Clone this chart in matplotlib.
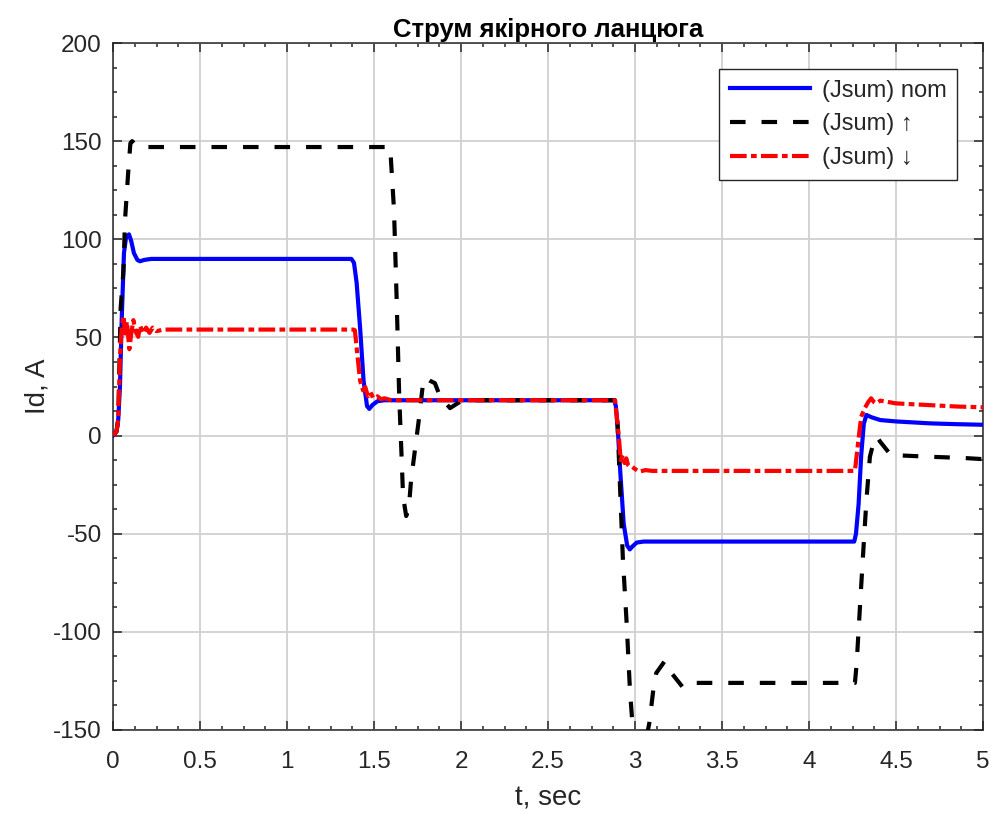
import matplotlib
matplotlib.use("Agg")
import matplotlib.pyplot as plt
from matplotlib.ticker import MultipleLocator

plt.rcParams['font.family'] = ['Liberation Sans', 'DejaVu Sans']
plt.rcParams['lines.scale_dashes'] = False
plt.rcParams['axes.unicode_minus'] = False

# ---- data ----
t_nom = [0, 0.02, 0.03, 0.04, 0.05, 0.063, 0.075, 0.092, 0.105, 0.12, 0.14, 0.155, 0.18, 0.22, 0.3,
         1.37, 1.385, 1.40, 1.42, 1.44, 1.46, 1.473, 1.49, 1.52, 1.56, 1.6,
         2.88, 2.89, 2.90, 2.915, 2.935, 2.955, 2.97, 2.985, 3.01, 3.05, 3.1,
         4.26, 4.27, 4.285, 4.30, 4.315, 4.33, 4.36, 4.41, 4.5, 4.7, 4.85, 5.0]
i_nom = [0, 2, 8, 25, 59, 93, 101, 102.5, 99, 93, 89.5, 88.8, 89.5, 90, 90,
         90, 88, 78, 55, 28, 15, 13.6, 15.5, 17.5, 18, 18,
         18, 15, 5, -18, -45, -56, -58, -56.5, -54.5, -54, -54,
         -54, -50, -35, -10, 6, 10.5, 9.3, 7.9, 7.2, 6.2, 5.8, 5.5]

t_up = [0, 0.02, 0.03, 0.044, 0.06, 0.069, 0.088, 0.10, 0.11, 0.13, 0.16, 0.22,
        1.593, 1.615, 1.63, 1.645, 1.66, 1.667, 1.685, 1.70, 1.713, 1.755, 1.784, 1.795, 1.82, 1.85,
        1.88, 1.937, 1.994, 2.05,
        2.885, 2.90, 2.93, 2.952, 2.971, 2.985, 3.0, 3.035, 3.07, 3.082, 3.105, 3.122, 3.17, 3.21,
        3.277, 3.354, 3.44,
        4.264, 4.274, 4.293, 4.31, 4.33, 4.35, 4.375, 4.39, 4.408, 4.47, 4.695, 4.885, 5.0]
i_up = [0, 2, 8, 65, 84, 109.7, 135, 149, 150, 148, 147, 147,
        147, 115, 70, 19.6, -14, -31, -41, -37, -22.7, 6.2, 28.3, 29.5, 28, 26.7,
        19.8, 14, 17.2, 18,
        18, 5, -62, -95.5, -129.7, -146.6, -152, -160, -152, -146.6, -129.7, -121, -115, -121,
        -128.5, -126, -126,
        -126, -116, -87, -61.7, -32.9, -10.8, -2, -0.6, -3, -9.9, -10.8, -11.4, -12]

t_dn = [0, 0.02, 0.03, 0.04, 0.05, 0.06, 0.07, 0.08, 0.094, 0.105, 0.117, 0.13, 0.145, 0.155,
        0.175, 0.19, 0.21, 0.228, 0.25, 0.28, 0.3,
        1.38, 1.39, 1.40, 1.42, 1.437, 1.45, 1.465, 1.48, 1.496, 1.52, 1.54, 1.56, 1.6,
        2.885, 2.905, 2.918, 2.93, 2.94, 2.95, 2.96, 2.97, 2.985, 3.0, 3.023, 3.06, 3.1,
        4.264, 4.284, 4.30, 4.32, 4.34, 4.357, 4.372, 4.386, 4.41, 4.5, 4.695, 4.85, 5.0]
i_dn = [0, 2, 8, 40, 55, 61, 52, 58, 44, 52, 58.8, 53, 50.3, 56,
        52, 55, 52.3, 55, 53.2, 53.8, 54,
        54, 53.7, 45, 28, 23, 24.7, 20, 22, 19, 20, 18.5, 19, 18,
        18, 1.3, -12.5, -10, -14, -11.6, -15, -15.9, -16, -17, -18.4, -17.6, -18,
        -18, -2.3, 9.6, 13.9, 17, 19, 17.2, 16.4, 17.8, 16.4, 15.5, 14.8, 14.4]

labels = ['(Jsum) nom', '(Jsum) \u2191', '(Jsum) \u2193']
title = 'Струм якірного ланцюга'
xlabel = 't, sec'
ylabel = 'Id, A'

# ---- figure ----
fig = plt.figure(figsize=(9.92, 8.14), dpi=100)
ax = fig.add_axes([113/992, 84/814, 870/992, 687/814])

lw = 3.0
ax.plot(t_nom, i_nom, color='#0000ff', lw=lw, label=labels[0], zorder=3)
ax.plot(t_up, i_up, color='black', lw=lw, dashes=(11.2, 11.5), label=labels[1], zorder=4)
ax.plot(t_dn, i_dn, color='#ff0000', lw=lw, dashes=(12, 3.1, 4.1, 3.1), label=labels[2], zorder=5)

ax.set_xlim(0, 5)
ax.set_ylim(-150, 200)
ax.xaxis.set_major_locator(MultipleLocator(0.5))
ax.xaxis.set_minor_locator(MultipleLocator(0.125))
ax.yaxis.set_major_locator(MultipleLocator(50))
ax.yaxis.set_minor_locator(MultipleLocator(12.5))

ax.grid(True, which='major', color='#d0d0d0', lw=1.3)
ax.set_axisbelow(True)

dark = '#262626'
for s in ax.spines.values():
    s.set_color(dark)
    s.set_linewidth(1.1)
ax.tick_params(which='both', direction='in', top=True, right=True, colors=dark,
               labelcolor=dark, width=1.1)
ax.tick_params(which='major', length=6.5, labelsize=17.5)
ax.tick_params(which='minor', length=3.2)
ax.tick_params(axis='x', which='major', pad=15)
ax.tick_params(axis='y', which='major', pad=8)

ax.set_xticklabels([('%g' % v) for v in ax.get_xticks()])

ax.set_title(title, fontsize=18.5, fontweight='bold', color='black', pad=4)
ax.set_xlabel(xlabel, fontsize=20, color=dark, labelpad=9)
ax.set_ylabel(ylabel, fontsize=20, color=dark, labelpad=2)

leg = ax.legend(loc='upper right', fontsize=17, handlelength=3.4, borderaxespad=1.1,
                labelspacing=0.5, handletextpad=0.5, fancybox=False, framealpha=1,
                borderpad=0.45)
leg.get_frame().set_edgecolor(dark)
leg.get_frame().set_linewidth(1.0)
for txt in leg.get_texts():
    txt.set_color(dark)

fig.savefig('out.png', dpi=100)
